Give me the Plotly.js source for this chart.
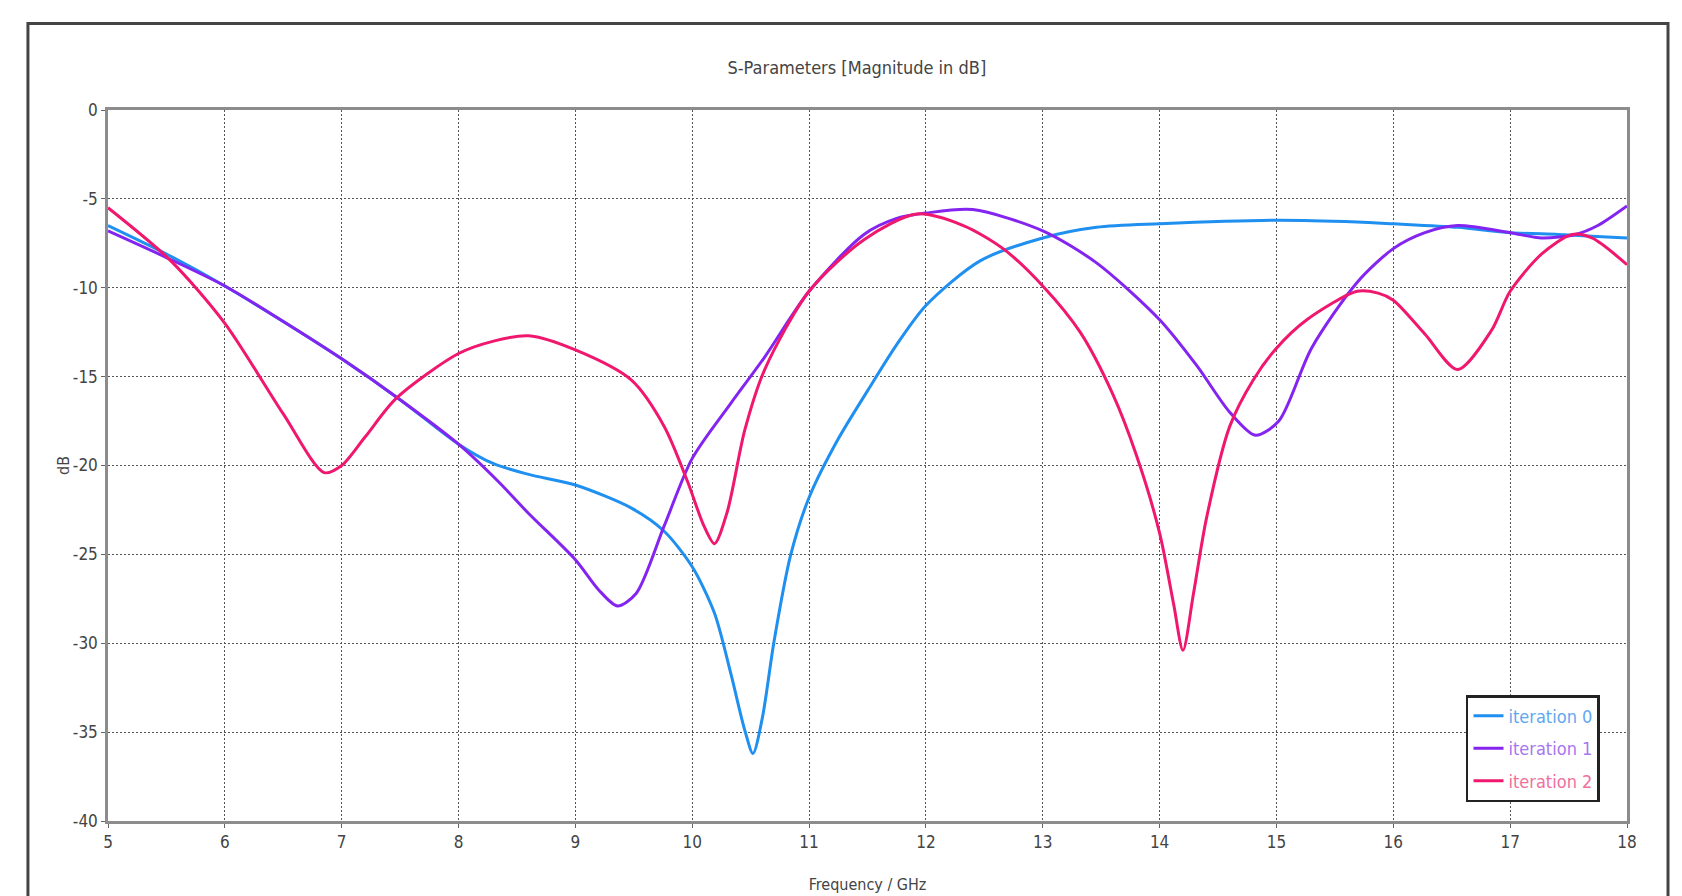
<!DOCTYPE html>
<html>
<head>
<meta charset="utf-8">
<script src="https://cdn.plot.ly/plotly-3.0.1.min.js"></script>
<style>
  html, body { margin: 0; padding: 0; background: #ffffff; }
  #chart { width: 1682px; height: 896px; }
</style>
</head>
<body>
<div id="chart"></div>
<script>
// ---- Data ----
var freq0 = [5, 5.5, 6, 6.5, 7, 7.5, 8, 8.3, 8.6, 9, 9.48, 9.76, 10, 10.19, 10.33, 10.45, 10.52, 10.6, 10.70, 10.84, 11, 11.25, 11.5, 11.75, 12, 12.46, 13, 13.46, 14, 15, 15.69, 16, 16.55, 17, 17.41, 17.7, 18];
var s0 = [-6.5, -8.1, -9.9, -11.9, -14.0, -16.3, -18.8, -19.9, -20.5, -21.1, -22.4, -23.7, -25.7, -28.3, -31.7, -34.9, -36.2, -34.2, -29.9, -25.1, -21.8, -18.5, -15.8, -13.2, -11.0, -8.5, -7.2, -6.6, -6.4, -6.2, -6.3, -6.4, -6.6, -6.9, -7.0, -7.1, -7.2];

var freq1 = [5, 5.5, 6, 6.5, 7, 7.5, 8, 8.34, 8.6, 9, 9.2, 9.36, 9.52, 9.76, 10, 10.33, 10.62, 11, 11.47, 11.75, 12, 12.4, 13, 13.46, 14, 14.32, 14.6, 14.82, 15.02, 15.3, 15.69, 16, 16.27, 16.55, 17, 17.27, 17.56, 17.75, 18];
var s1 = [-6.8, -8.3, -9.9, -11.9, -14.0, -16.3, -18.8, -20.9, -22.7, -25.3, -27.0, -27.9, -27.2, -23.4, -19.6, -16.5, -13.9, -10.2, -7.0, -6.1, -5.8, -5.6, -6.8, -8.6, -11.8, -14.4, -17.0, -18.3, -17.5, -13.4, -9.7, -7.8, -6.9, -6.5, -6.9, -7.2, -7.0, -6.5, -5.4];

var freq2 = [5, 5.54, 6, 6.5, 6.85, 7, 7.2, 7.47, 8, 8.3, 8.6, 9, 9.48, 9.76, 9.96, 10.1, 10.19, 10.3, 10.45, 10.62, 11, 11.47, 11.92, 12.32, 12.66, 13, 13.32, 13.6, 13.8, 14, 14.12, 14.2, 14.29, 14.4, 14.6, 14.8, 15, 15.26, 15.69, 15.87, 16, 16.27, 16.55, 16.84, 17, 17.27, 17.53, 17.7, 18];
var s2 = [-5.5, -8.5, -12.0, -17.1, -20.4, -20.0, -18.4, -16.2, -13.7, -13.0, -12.7, -13.5, -15.2, -17.8, -20.9, -23.4, -24.4, -22.6, -18.0, -14.6, -10.2, -7.3, -5.85, -6.5, -7.8, -9.9, -12.5, -16.0, -19.4, -23.8, -27.8, -30.4, -27.2, -23.0, -17.8, -15.2, -13.4, -11.8, -10.2, -10.3, -10.7, -12.6, -14.6, -12.4, -10.2, -8.1, -7.0, -7.2, -8.7];

var seriesNames = ['iteration 0', 'iteration 1', 'iteration 2'];
var xTicks = [5, 6, 7, 8, 9, 10, 11, 12, 13, 14, 15, 16, 17, 18];
var yTicks = [0, -5, -10, -15, -20, -25, -30, -35, -40];

// ---- Styles ----
var lineColors = ['#1f8ff0', '#8424f0', '#f0186e'];
var textColors = ['#5fa8f0', '#a776f0', '#f0709e'];
var FONT = '"Liberation Sans Narrow", "DejaVu Sans Condensed", "Roboto Condensed", Roboto, sans-serif';

var xs = [freq0, freq1, freq2];
var ys = [s0, s1, s2];
var traces = [];
for (var i = 0; i < 3; i++) {
  traces.push({
    x: xs[i], y: ys[i],
    type: 'scatter', mode: 'lines',
    line: {color: lineColors[i], width: 3, shape: 'spline', smoothing: 0.8},
    name: '<span style="color:' + textColors[i] + '">' + seriesNames[i] + '</span>',
    legendgroup: 'g' + i,
    hoverinfo: 'x+y'
  });
}

var layout = {
  width: 1682, height: 896,
  paper_bgcolor: '#ffffff', plot_bgcolor: '#ffffff',
  margin: {l: 108, r: 55, t: 110, b: 75},
  font: {family: FONT, size: 16, color: '#444'},
  title: {
    text: 'S-Parameters [Magnitude in dB]',
    font: {family: FONT, size: 18, color: '#444'},
    x: 0.493, xref: 'paper', xanchor: 'center',
    y: 0.924, yref: 'container', yanchor: 'middle'
  },
  xaxis: {
    range: [5, 18], tickvals: xTicks, ticktext: xTicks.map(String),
    showgrid: true, gridcolor: '#555', gridwidth: 1, griddash: '2px,2px',
    showline: true, linecolor: '#8c8c8c', linewidth: 2.5, mirror: true,
    ticks: 'outside', ticklen: 4, tickcolor: '#666', tickwidth: 1,
    zeroline: false,
    tickfont: {family: FONT, size: 17, color: '#444'},
    title: {text: 'Frequency / GHz', font: {family: FONT, size: 16, color: '#444'}, standoff: 28}
  },
  yaxis: {
    range: [-40, 0], tickvals: yTicks, ticktext: yTicks.map(String),
    showgrid: true, gridcolor: '#555', gridwidth: 1, griddash: '2px,2px',
    showline: true, linecolor: '#8c8c8c', linewidth: 2.5, mirror: true,
    ticks: 'outside', ticklen: 4, tickcolor: '#666', tickwidth: 1,
    zeroline: false,
    tickfont: {family: FONT, size: 17, color: '#444'},
    title: {text: 'dB', font: {family: FONT, size: 16, color: '#444'}, standoff: 0}
  },
  showlegend: true,
  legend: {
    x: 0.894, y: 0.177, xanchor: 'left', yanchor: 'top',
    bgcolor: '#ffffff', bordercolor: '#222', borderwidth: 2.5,
    font: {family: FONT, size: 18},
    itemwidth: 30, tracegroupgap: 6
  },
  shapes: [{
    type: 'rect', xref: 'paper', yref: 'paper',
    x0: -0.0527, x1: 1.0270, y0: -0.115, y1: 1.1217,
    line: {color: '#444', width: 3}, fillcolor: 'rgba(0,0,0,0)', layer: 'below'
  }]
};

Plotly.newPlot('chart', traces, layout, {displayModeBar: false, responsive: false});
</script>
</body>
</html>
